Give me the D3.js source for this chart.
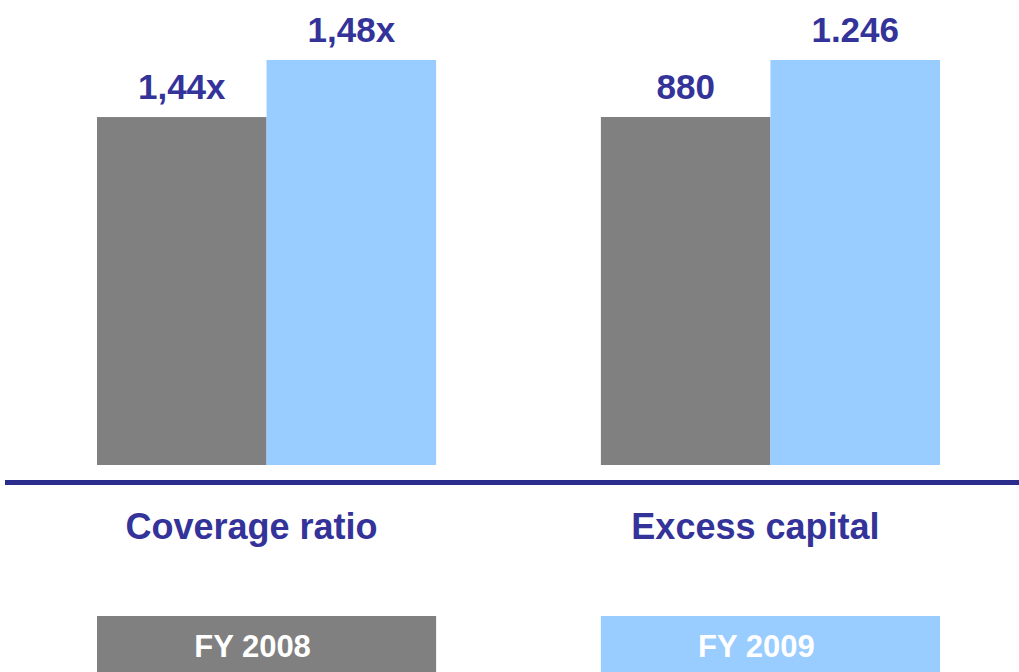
<!DOCTYPE html>
<html>
<head>
<meta charset="utf-8">
<script src="https://cdn.jsdelivr.net/npm/d3@7"></script>
<style>
  html, body { margin: 0; padding: 0; background: #ffffff; }
  svg { display: block; }
  text { font-family: "Liberation Sans", Arial, sans-serif; font-weight: bold; }
</style>
</head>
<body>
<svg id="chart" width="1019" height="672"></svg>
<script>
// Metrics shown side by side
const categories = ["Coverage ratio", "Excess capital"];
// Fiscal years (series)
const seriesNames = ["FY 2008", "FY 2009"];
const fy2008 = [1.44, 880];
const fy2009 = [1.48, 1246];
const fy2008Labels = ["1,44x", "880"];
const fy2009Labels = ["1,48x", "1.246"];
// Each metric has its own truncated value axis (floor of the visible range)
const axisFloor = [1.196, -1355];

const W = 1019, H = 672;
const baseY = 465, topY = 60;
const colors = { "FY 2008": "#808080", "FY 2009": "#99ccff" };
const navy = "#333399";

const svg = d3.select("#chart");

const x0 = d3.scaleBand().domain(categories).range([97, 940]).paddingInner(0.327).paddingOuter(0);
const x1 = d3.scaleBand().domain(seriesNames).range([0, x0.bandwidth()]).padding(0);

const rows = categories.map((c, i) => ({
  category: c,
  max: Math.max(fy2008[i], fy2009[i]),
  y: d3.scaleLinear().domain([axisFloor[i], Math.max(fy2008[i], fy2009[i])]).range([baseY, topY]),
  bars: [
    { series: seriesNames[0], value: fy2008[i], label: fy2008Labels[i] },
    { series: seriesNames[1], value: fy2009[i], label: fy2009Labels[i] }
  ]
}));

const groups = svg.selectAll("g.group").data(rows).join("g")
  .attr("class", "group")
  .attr("transform", d => `translate(${x0(d.category)},0)`);

groups.each(function (row) {
  const g = d3.select(this);
  g.selectAll("rect.bar").data(row.bars).join("rect")
    .attr("class", "bar")
    .attr("x", d => x1(d.series))
    .attr("width", x1.bandwidth())
    .attr("y", d => row.y(d.value))
    .attr("height", d => baseY - row.y(d.value))
    .attr("fill", d => colors[d.series]);

  g.selectAll("text.value").data(row.bars).join("text")
    .attr("class", "value")
    .attr("x", d => x1(d.series) + x1.bandwidth() / 2)
    .attr("y", d => row.y(d.value) - 18)
    .attr("text-anchor", "middle")
    .attr("font-size", 35)
    .attr("fill", navy)
    .text(d => d.label);

  g.append("text")
    .attr("x", x0.bandwidth() / 2 - 15)
    .attr("y", 539)
    .attr("text-anchor", "middle")
    .attr("font-size", 36)
    .attr("fill", navy)
    .text(row.category);
});

// Baseline rule
svg.append("line")
  .attr("x1", 5).attr("x2", W)
  .attr("y1", 482.5).attr("y2", 482.5)
  .attr("stroke", "#2b2d8c").attr("stroke-width", 5);

// Legend: one swatch box per series, aligned under each group
const legend = svg.selectAll("g.legend").data(seriesNames).join("g")
  .attr("class", "legend")
  .attr("transform", (d, i) => `translate(${x0(categories[i])},616)`);

legend.append("rect")
  .attr("width", x0.bandwidth())
  .attr("height", 70)
  .attr("fill", d => colors[d]);

legend.append("text")
  .attr("x", x0.bandwidth() / 2 - 14)
  .attr("y", 41)
  .attr("text-anchor", "middle")
  .attr("font-size", 31)
  .attr("fill", "#ffffff")
  .text(d => d);
</script>
</body>
</html>
